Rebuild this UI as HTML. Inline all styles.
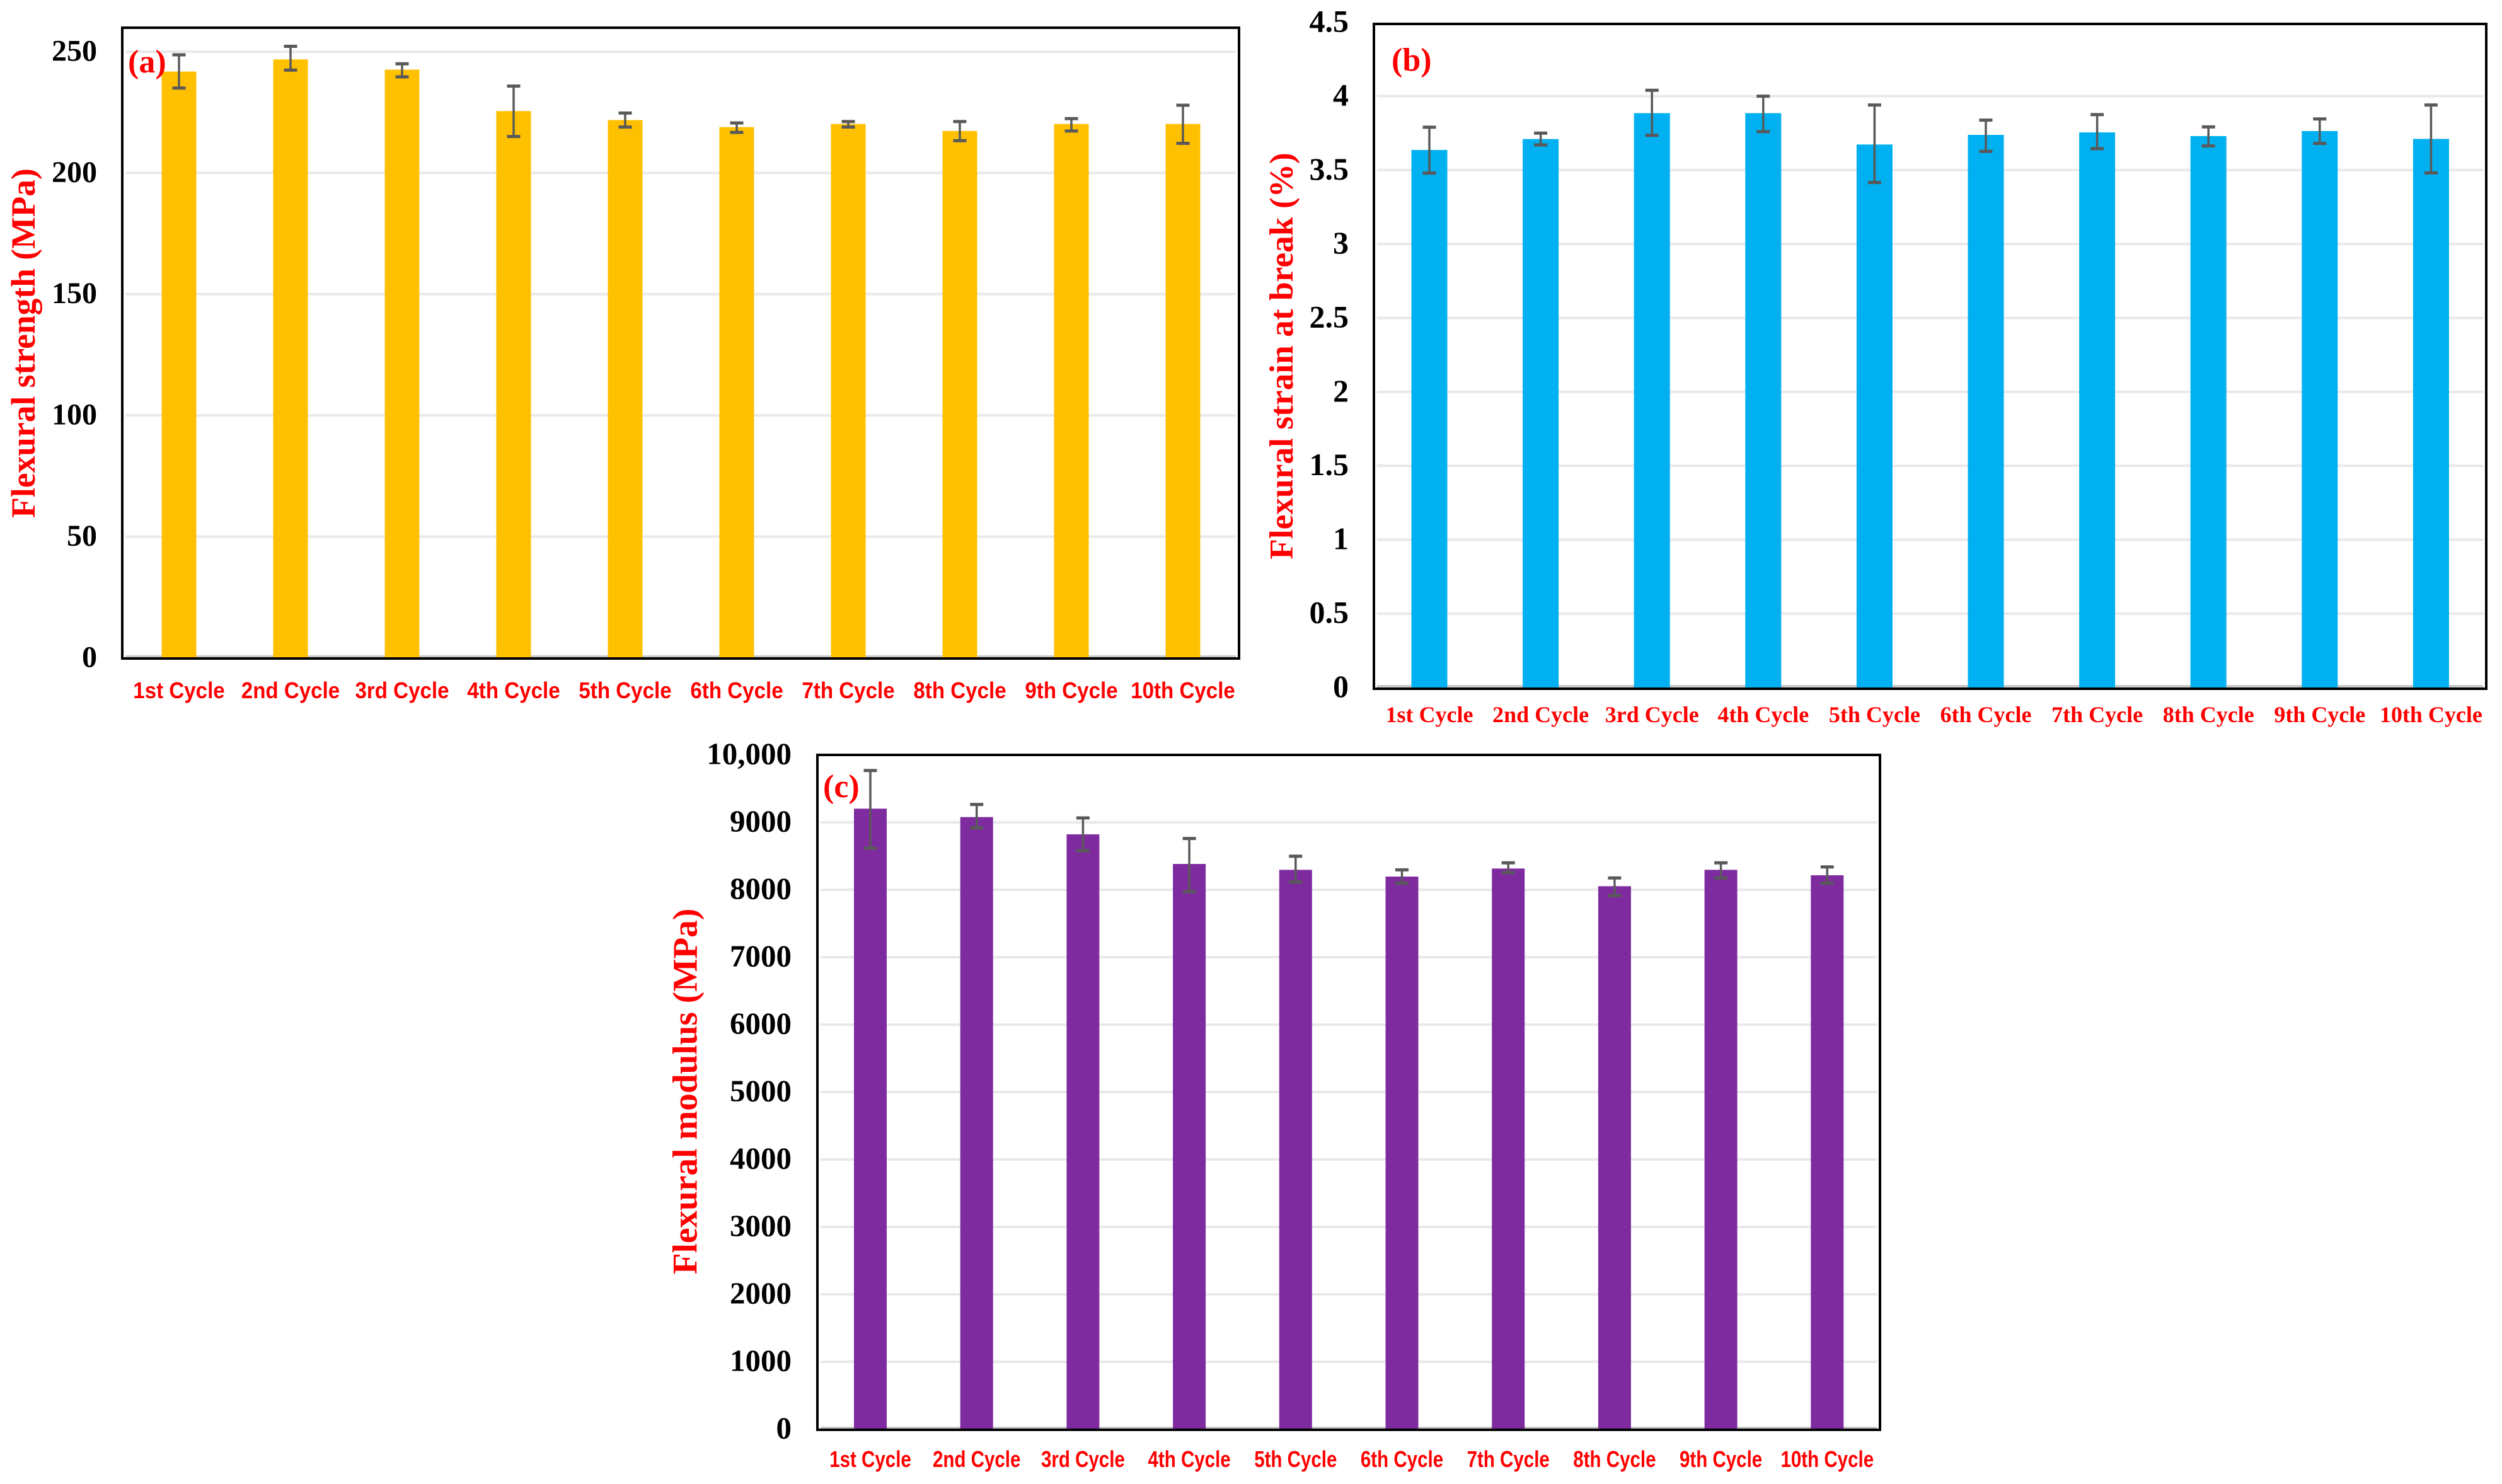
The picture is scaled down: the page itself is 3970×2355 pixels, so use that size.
<!DOCTYPE html>
<html lang="en">
<head>
<meta charset="utf-8">
<title>Flexural properties over recycling cycles</title>
<style>
  html, body { margin: 0; padding: 0; background: #fff; }
  svg { display: block; }
  .tick { font-family: "Liberation Serif", serif; font-weight: bold; fill: #000; }
  .cat { font-weight: bold; fill: #f00; }
  .title { font-family: "Liberation Serif", serif; font-weight: bold; fill: #f00; }
  .panel { font-family: "Liberation Serif", serif; font-weight: bold; fill: #f00; }
</style>
</head>
<body>
<svg id="fig" xmlns="http://www.w3.org/2000/svg" width="3970" height="2355" viewBox="0 0 3970 2355">
  <rect x="0" y="0" width="3970" height="2355" fill="#ffffff"/>
</svg>
<script>
const categories = ['1st Cycle', '2nd Cycle', '3rd Cycle', '4th Cycle', '5th Cycle', '6th Cycle', '7th Cycle', '8th Cycle', '9th Cycle', '10th Cycle'];

const strengthValues = [241.8, 246.8, 242.6, 225.5, 221.8, 218.9, 220.2, 217.3, 220.2, 220.2];
const strengthHigh = [248.7, 252.2, 245.0, 235.8, 224.7, 220.6, 221.2, 221.2, 222.4, 227.9];
const strengthLow = [235.0, 242.4, 239.6, 215.0, 218.9, 216.7, 218.9, 213.3, 217.3, 212.2];
const strengthTicks = [0, 50, 100, 150, 200, 250];
const strengthTickLabels = ['0', '50', '100', '150', '200', '250'];

const strainValues = [3.636, 3.71, 3.885, 3.885, 3.673, 3.738, 3.755, 3.73, 3.764, 3.711];
const strainHigh = [3.79, 3.75, 4.04, 4.0, 3.94, 3.838, 3.875, 3.792, 3.846, 3.94];
const strainLow = [3.48, 3.67, 3.735, 3.76, 3.416, 3.627, 3.645, 3.663, 3.68, 3.481];
const strainTicks = [0, 0.5, 1, 1.5, 2, 2.5, 3, 3.5, 4, 4.5];
const strainTickLabels = ['0', '0.5', '1', '1.5', '2', '2.5', '3', '3.5', '4', '4.5'];

const modulusValues = [9203, 9078, 8822, 8383, 8296, 8196, 8315, 8053, 8296, 8215];
const modulusHigh = [9769, 9265, 9065, 8760, 8498, 8296, 8399, 8175, 8399, 8339];
const modulusLow = [8617, 8919, 8579, 7972, 8115, 8097, 8255, 7913, 8175, 8097];
const modulusTicks = [0, 1000, 2000, 3000, 4000, 5000, 6000, 7000, 8000, 9000, 10000];
const modulusTickLabels = ['0', '1000', '2000', '3000', '4000', '5000', '6000', '7000', '8000', '9000', '10,000'];

const svg = document.getElementById('fig');
const NS = 'http://www.w3.org/2000/svg';

function make(tag, attrs, text) {
  const el = document.createElementNS(NS, tag);
  for (const k in attrs) el.setAttribute(k, attrs[k]);
  if (text !== undefined) el.textContent = text;
  svg.appendChild(el);
  return el;
}

function drawChart(c) {
  const yScale = v => c.y0 - (v - c.yMin) * c.pxPerUnit;
  const xScale = i => c.xFirst + i * c.xStep;

  // gridlines
  c.ticks.forEach((t, i) => {
    const y = yScale(t);
    if (y < c.top + 8) return;
    const grid = make('line', { x1: c.left + 5, x2: c.right - 5, y1: y - (t === 0 ? 2 : 0), y2: y - (t === 0 ? 2 : 0), stroke: t === 0 ? '#c8c8c8' : '#e9e9e9', 'stroke-width': 4 });
    
    
  });

  // bars
  c.values.forEach((v, i) => {
    const bar = make('rect', { x: xScale(i) - c.barW / 2, y: yScale(v), width: c.barW, height: yScale(c.yMin) - yScale(v), fill: c.color });
    
    
  });

  // frame
  const frame = make('rect', { x: c.left, y: c.top, width: c.right - c.left, height: c.bottom - c.top, fill: 'none', stroke: '#000', 'stroke-width': 4 });
  
  

  // error bars
  c.values.forEach((v, i) => {
    const x = xScale(i);
    const hi = yScale(c.high[i]);
    const lo = yScale(c.low[i]);
    const stem = make('line', { x1: x, x2: x, y1: hi, y2: lo, stroke: '#595959', 'stroke-width': 3.5 });
    
    
    const capTop = make('line', { x1: x - 10.5, x2: x + 10.5, y1: hi, y2: hi, stroke: '#595959', 'stroke-width': 5 });
    
    
    const capBottom = make('line', { x1: x - 10.5, x2: x + 10.5, y1: lo, y2: lo, stroke: '#595959', 'stroke-width': 5 });
    
    
  });

  // y tick labels
  c.ticks.forEach((t, i) => {
    const label = make('text', { class: 'tick', x: c.tickRight, y: yScale(t) + c.tickFont * 0.3, 'text-anchor': 'end', 'font-size': c.tickFont }, c.tickLabels[i]);
    
    
  });

  // category labels
  categories.forEach((name, i) => {
    const label = make('text', { class: 'cat', transform: 'translate(' + xScale(i) + ',' + c.catY + ') scale(' + c.catScale + ',1)', 'text-anchor': 'middle', 'font-size': c.catFont, 'font-family': c.catFamily }, name);
    
    
  });

  // y axis title
  const title = make('text', { class: 'title', transform: 'translate(' + c.titleX + ',' + c.titleY + ') rotate(-90)', 'text-anchor': 'middle', 'font-size': c.titleFont }, c.title);
  
  

  // panel letter
  const panel = make('text', { class: 'panel', x: c.panelX, y: c.panelY, 'font-size': c.panelFont }, c.panel);
  
  
}

const sansCat = '"Liberation Sans", sans-serif';
const serifCat = '"Liberation Serif", serif';

drawChart({
  id: 'strength', title: 'Flexural strength (MPa)', panel: '(a)', color: '#FFC000',
  values: strengthValues, high: strengthHigh, low: strengthLow, ticks: strengthTicks, tickLabels: strengthTickLabels,
  yMin: 0, y0: 1044, pxPerUnit: 3.848,
  left: 194, right: 1966, top: 44, bottom: 1045,
  xFirst: 284, xStep: 177, barW: 55,
  tickRight: 154, tickFont: 48,
  catY: 1108, catFont: 36, catFamily: sansCat, catScale: 0.92,
  titleX: 55, titleY: 544.5, titleFont: 53.5,
  panelX: 203, panelY: 115, panelFont: 52
});

drawChart({
  id: 'strain', title: 'Flexural strain at break (%)', panel: '(b)', color: '#00B0F0',
  values: strainValues, high: strainHigh, low: strainLow, ticks: strainTicks, tickLabels: strainTickLabels,
  yMin: 0, y0: 1091, pxPerUnit: 234.6,
  left: 2180, right: 3945, top: 38, bottom: 1093,
  xFirst: 2268, xStep: 176.6, barW: 57,
  tickRight: 2140, tickFont: 50,
  catY: 1146, catFont: 36, catFamily: serifCat, catScale: 1,
  titleX: 2051, titleY: 565, titleFont: 53.4,
  panelX: 2208, panelY: 112, panelFont: 52
});

drawChart({
  id: 'modulus', title: 'Flexural modulus (MPa)', panel: '(c)', color: '#7F2BA0',
  values: modulusValues, high: modulusHigh, low: modulusLow, ticks: modulusTicks, tickLabels: modulusTickLabels,
  yMin: 0, y0: 2268, pxPerUnit: 0.107,
  left: 1297, right: 2983, top: 1198, bottom: 2269,
  xFirst: 1381, xStep: 168.7, barW: 52,
  tickRight: 1256, tickFont: 49,
  catY: 2328, catFont: 36, catFamily: sansCat, catScale: 0.82,
  titleX: 1105.7, titleY: 1732, titleFont: 55.3,
  panelX: 1306, panelY: 1265, panelFont: 52
});
</script>
</body>
</html>
